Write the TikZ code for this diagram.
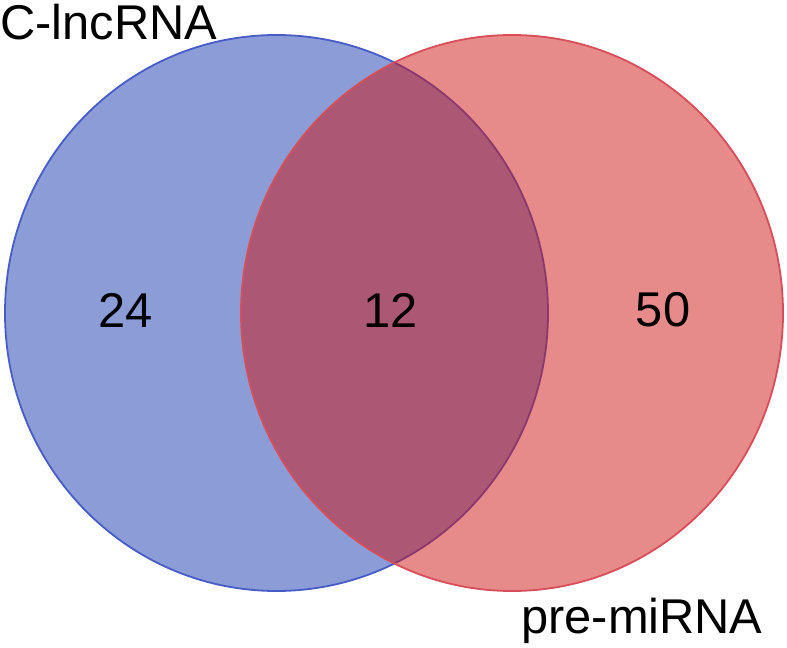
\documentclass[tikz,border=0pt]{standalone}
\usepackage{fontspec}
\setmainfont{Liberation Sans}
\usepackage{tikz}
\usetikzlibrary{positioning}
\definecolor{lncfill}{RGB}{139,156,214}
\definecolor{lncline}{RGB}{72,92,200}
\definecolor{mirfill}{RGB}{205,21,21}
\definecolor{mirline}{RGB}{215,78,88}
\tikzset{
  setlnc/.style = {fill=lncfill, draw=lncline, line width=1.8bp},
  setmir/.style = {fill=mirfill, fill opacity=0.5, draw=mirline, draw opacity=1,
                   line width=1.8bp},
  count/.style  = {font=\fontsize{49}{59}\selectfont, inner sep=0pt},
  setlab/.style = {font=\fontsize{49}{59}\selectfont, inner sep=0pt, anchor=base west},
}

\begin{document}
\begin{tikzpicture}[x=1bp, y=-1bp]
  \useasboundingbox (0,0) rectangle (787,648);

  % the two sets
  \draw[setlnc] (276.5,313) ellipse [x radius=271.5, y radius=278];
  \draw[setmir] (512,313) ellipse [x radius=271, y radius=278];

  \node[setlab] (lnclab) at (0,40) {C-lncRNA};
  \node[setlab] (mirlab) at (521,633) {pre-miRNA};

  \node[count] (onlylnc) at (126,310) {24};
  \node[count] (both)    at (391,310) {12};
  \node[count] (onlymir) at (663,310) {50};
\end{tikzpicture}
\end{document}
